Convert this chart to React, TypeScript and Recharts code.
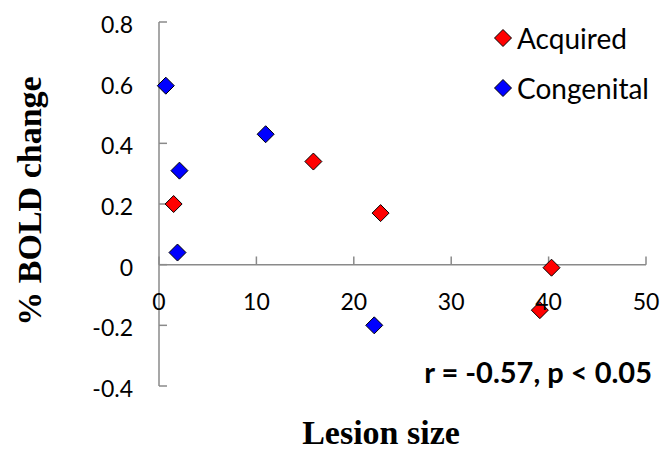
import React from 'react';
import { ScatterChart, Scatter, XAxis, YAxis, ReferenceLine, ReferenceDot } from 'recharts';

const acquired = [
  { x: 1.5, y: 0.2 },
  { x: 15.85, y: 0.34 },
  { x: 22.75, y: 0.17 },
  { x: 40.3, y: -0.01 },
  { x: 39.1, y: -0.15 },
];

const congenital = [
  { x: 0.7, y: 0.59 },
  { x: 2.1, y: 0.31 },
  { x: 1.9, y: 0.04 },
  { x: 10.95, y: 0.43 },
  { x: 22.1, y: -0.2 },
];

const seriesNames = ['Acquired', 'Congenital'];
const seriesColors = ['#ff0000', '#0000ff'];

const xTicks = [0, 10, 20, 30, 40, 50];
const yTicks = [-0.4, -0.2, 0, 0.2, 0.4, 0.6, 0.8];

const AXIS = '#8a8a8a';
const TICK_FONT = 'Lato, "Open Sans", sans-serif';
const TITLE_FONT = '"Liberation Serif", "DejaVu Serif", serif';

// excel style square diamond marker
const Diamond = (props: any) => {
  const { cx, cy, fill } = props;
  const r = 8.5;
  return (
    <path
      d={`M${cx},${cy - r}L${cx + r},${cy}L${cx},${cy + r}L${cx - r},${cy}Z`}
      fill={fill}
      stroke="#000"
      strokeWidth={1}
    />
  );
};

export default function App() {
  return (
    <div style={{ position: 'absolute', left: 0, top: 0, width: 661, height: 453, background: '#fff' }}>
      <ScatterChart width={661} height={453} margin={{ top: 22, right: 15, bottom: 67, left: 99 }}>
        <XAxis type="number" dataKey="x" domain={[0, 50]} ticks={xTicks} hide />
        <YAxis
          type="number"
          dataKey="y"
          domain={[-0.4, 0.8]}
          ticks={yTicks}
          width={60}
          tickLine={false}
          tickSize={0}
          tickMargin={26}
          axisLine={{ stroke: AXIS, strokeWidth: 1.5 }}
          tick={{ fill: '#000', fontSize: 23, fontFamily: TICK_FONT, dy: 3 }}
          tickFormatter={(v: number) => String(v)}
        />
        <ReferenceLine y={0} stroke={AXIS} strokeWidth={1.5} />
        {yTicks.map((t) => (
          <ReferenceLine
            key={'yt' + t}
            segment={[{ x: 0, y: t }, { x: 0.82, y: t }]}
            stroke={AXIS}
            strokeWidth={1.5}
          />
        ))}
        {xTicks.map((t) => (
          <ReferenceLine
            key={'xt' + t}
            segment={[{ x: t, y: 0 }, { x: t, y: 0.027 }]}
            stroke={AXIS}
            strokeWidth={1.5}
          />
        ))}
        {xTicks.map((t) => (
          <ReferenceDot
            key={'xl' + t}
            x={t}
            y={0}
            r={0}
            stroke="none"
            fill="none"
            label={{ value: String(t), position: 'bottom', offset: 29, fill: '#000', fontSize: 23, fontFamily: TICK_FONT }}
          />
        ))}
        <Scatter name="Acquired" data={acquired} fill="#ff0000" shape={<Diamond />} isAnimationActive={false} />
        <Scatter name="Congenital" data={congenital} fill="#0000ff" shape={<Diamond />} isAnimationActive={false} />
      </ScatterChart>
      <div style={{ position: 'absolute', left: 494, top: 13, fontFamily: TICK_FONT, fontSize: 28 }}>
        {seriesNames.map((name, i) => (
          <div key={name} style={{ display: 'flex', alignItems: 'center', height: 50 }}>
            <svg width={18} height={18} style={{ display: 'block' }}>
              <path d="M9,0.5L17.5,9L9,17.5L0.5,9Z" fill={seriesColors[i]} stroke="#000" strokeWidth={1} />
            </svg>
            <span style={{ marginLeft: 5 }}>{name}</span>
          </div>
        ))}
      </div>
      <div
        style={{
          position: 'absolute',
          right: 9,
          top: 356,
          lineHeight: '32px',
          fontFamily: TICK_FONT,
          fontWeight: 700,
          fontSize: 29,
          whiteSpace: 'nowrap',
        }}
      >
        r = -0.57, p &lt; 0.05
      </div>
      <div
        style={{
          position: 'absolute',
          left: 381,
          top: 421,
          transform: 'translateX(-50%)',
          lineHeight: '24px',
          fontFamily: TITLE_FONT,
          fontWeight: 700,
          fontSize: 34,
          whiteSpace: 'nowrap',
        }}
      >
        Lesion size
      </div>
      <div
        style={{
          position: 'absolute',
          left: 30,
          top: 201,
          transform: 'translate(-50%, -50%) rotate(-90deg)',
          lineHeight: '34px',
          fontFamily: TITLE_FONT,
          fontWeight: 700,
          fontSize: 34,
          whiteSpace: 'nowrap',
        }}
      >
        % BOLD change
      </div>
    </div>
  );
}
